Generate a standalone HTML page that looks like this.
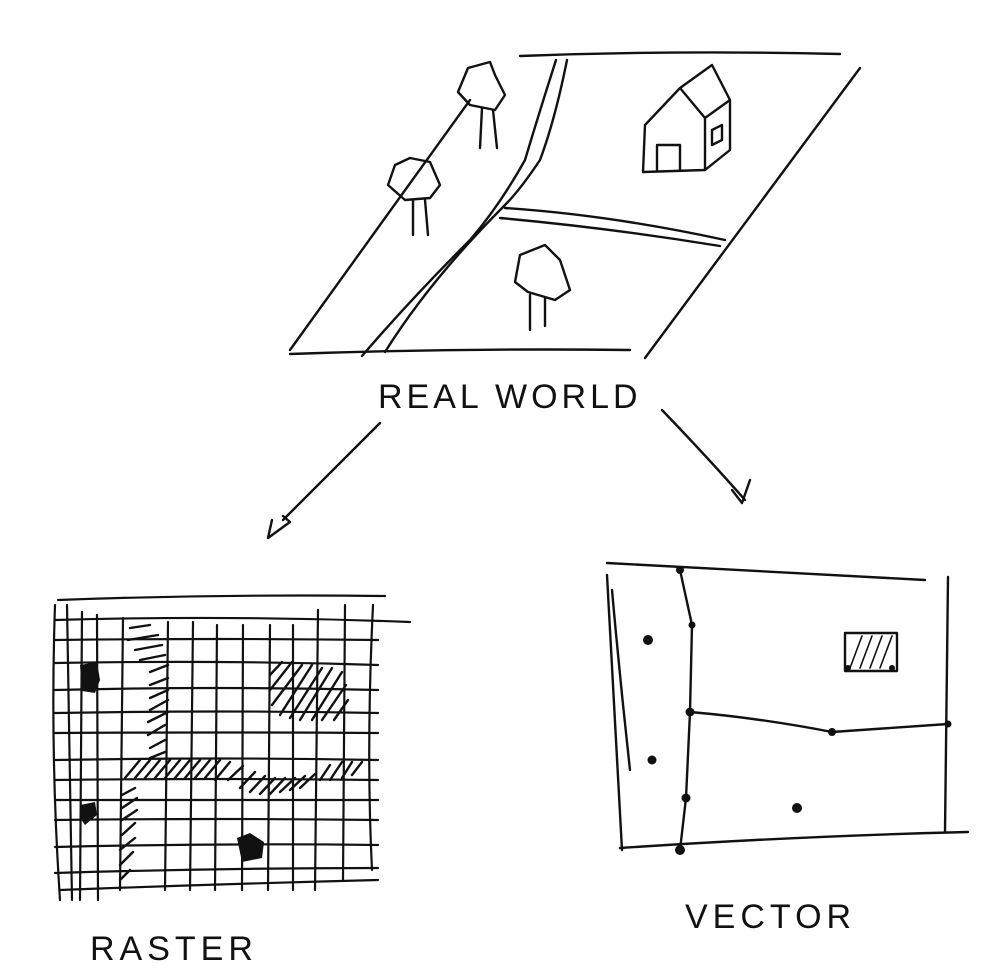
<!DOCTYPE html>
<html><head><meta charset="utf-8"><style>
html,body{margin:0;padding:0;background:#fff;width:994px;height:978px;overflow:hidden}
svg{display:block}
text{font-family:"Liberation Sans",sans-serif;fill:#111}
</style></head><body>
<svg width="994" height="978" viewBox="0 0 994 978" fill="none" stroke="#111" stroke-width="2.4" stroke-linecap="round" stroke-linejoin="round">
<g>
<path d="M520 56 Q680 50 840 54"/>
<path d="M860 68 L645 358"/>
<path d="M290 354 Q460 348 630 350"/>
<path d="M290 350 L470 100"/>
<path d="M556 60 Q540 110 525 160 Q500 205 470 240 Q410 300 362 356"/>
<path d="M567 60 Q555 120 540 160 Q520 190 505 205 Q430 280 385 352"/>
<path d="M505 208 Q610 215 725 240"/>
<path d="M500 218 Q610 228 720 246"/>
<path d="M468 68 L490 62 L495 75 L505 95 L495 110 L470 105 L458 92 Z M482 108 L480 148 M493 110 L497 148"/>
<path d="M395 165 L410 158 L430 162 L440 185 L430 198 L405 200 L388 185 Z M413 200 L413 235 M425 200 L428 235"/>
<path d="M520 255 L545 245 L560 260 L570 290 L555 300 L528 292 L515 282 Z M530 295 L530 330 M545 297 L545 326"/>
<path d="M645 125 L680 88 L705 118 L705 170 L643 172 Z M680 88 L712 65 L730 100 L705 118 M705 170 L730 150 L730 100 M657 170 L657 145 L680 145 L680 170 M712 130 L722 125 L722 140 L712 145 Z"/>
</g>
<text x="378" y="408" font-size="34" stroke="none" letter-spacing="4">REAL WORLD</text>
<path d="M380 423 L283 520 M272 520 L268 538 L290 522 L283 516"/>
<path d="M662 410 Q710 460 745 500 M732 490 L742 503 L750 480"/>
<g stroke-width="2.2">
<path d="M58 600 Q220 594 385 596 M55 620 Q230 615 410 622 M55 640 Q220 638 378 640 M55 663 Q220 660 378 665 M55 690 Q220 686 378 690 M55 713 Q220 710 378 713 M55 733 Q220 732 378 733 M55 760 Q220 757 378 760 M55 780 Q220 778 378 780 M55 800 Q220 800 378 800 M55 820 Q220 818 378 820 M55 847 Q220 843 378 845 M55 873 Q220 868 378 868 M60 890 Q220 884 378 880"/>
<path d="M55 605 Q50 750 60 900 M67 605 L72 900 M82 612 L80 900 M97 615 L98 900 M123 618 L120 890 M168 622 L165 890 M193 622 L190 890 M217 625 L215 890 M243 625 L242 890 M270 625 L268 890 M293 625 L293 890 M318 610 L315 890 M345 605 L343 880 M373 605 Q366 750 372 870"/>
</g>
<g fill="#111" stroke="none">
<path d="M80 665 L97 662 L100 680 L95 693 L82 691 Z"/>
<path d="M80 805 L95 802 L97 815 L85 825 L80 818 Z"/>
<path d="M237 838 L250 833 L264 842 L262 858 L242 862 Z"/>
</g>
<g stroke-width="2.4">
<path d="M130 628 L150 625 M128 640 L158 635 M135 650 L162 645 M140 660 L165 655 M150 672 L168 665 M150 685 L168 678 M150 698 L168 690 M150 710 L168 700 M148 722 L168 712 M148 735 L165 725 M150 748 L165 740 M150 758 L165 752"/>
<path d="M125 778 L140 760 M135 778 L150 760 M145 778 L160 760 M155 778 L170 760 M165 778 L180 760 M175 778 L190 760 M185 778 L200 760 M195 778 L210 760 M205 778 L220 760 M215 780 L230 762 M228 780 L243 766 M240 788 L255 772 M250 792 L265 776 M260 794 L275 778 M270 794 L285 778 M280 792 L295 778 M290 790 L305 776 M300 788 L315 774 M320 780 L330 765 M330 780 L342 762 M342 778 L352 762 M352 775 L362 762"/>
<path d="M122 795 L135 788 M122 808 L137 798 M122 820 L137 810 M122 835 L135 823 M120 850 L135 838 M120 865 L133 852 M120 880 L130 870"/>
<path d="M270 675 L282 662 M270 690 L292 662 M272 705 L302 665 M280 715 L312 665 M290 718 L322 668 M300 720 L332 668 M312 720 L342 672 M322 720 L346 685 M334 720 L348 700"/>
</g>
<text x="90" y="960" font-size="34" stroke="none" letter-spacing="5">RASTER</text>
<g>
<path d="M607 563 Q780 572 925 580"/>
<path d="M607 575 L622 850"/>
<path d="M620 848 Q800 836 968 832"/>
<path d="M948 577 L945 832"/>
<path d="M612 590 Q620 680 630 770"/>
<path d="M680 570 L692 625 L690 712 L686 798 L680 850"/>
<path d="M690 712 Q760 718 832 732 Q890 728 948 724"/>
<rect x="845" y="633" width="52" height="38"/>
<path d="M850 668 L862 636 M860 668 L872 636 M870 668 L882 636 M880 668 L892 636" stroke-width="1.6"/>
<g fill="#111" stroke="none">
<circle cx="680" cy="570" r="4"/><circle cx="692" cy="625" r="3.5"/><circle cx="690" cy="712" r="4.5"/><circle cx="686" cy="798" r="4.5"/><circle cx="680" cy="850" r="5"/>
<circle cx="832" cy="732" r="4"/><circle cx="948" cy="724" r="3.5"/><circle cx="648" cy="640" r="5"/><circle cx="652" cy="760" r="4.5"/><circle cx="797" cy="808" r="5"/><circle cx="848" cy="668" r="3"/><circle cx="892" cy="668" r="3"/>
</g>
</g>
<text x="685" y="928" font-size="34" stroke="none" letter-spacing="5">VECTOR</text>
</svg>
</body></html>
